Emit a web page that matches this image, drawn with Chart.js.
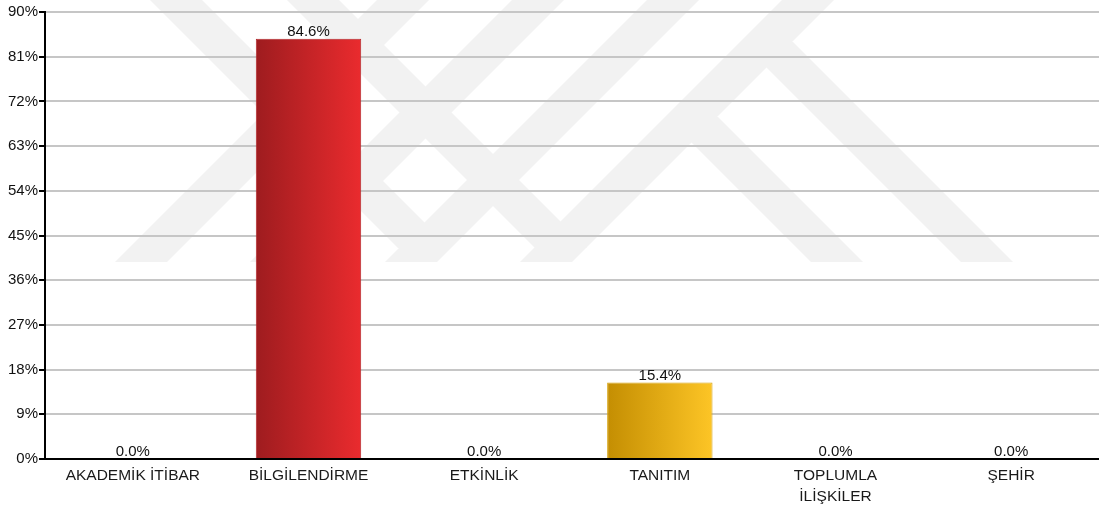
<!DOCTYPE html>
<html>
<head>
<meta charset="utf-8">
<script src="https://cdn.jsdelivr.net/npm/chart.js@4/dist/chart.umd.min.js"></script>
<style>
  html, body { margin: 0; padding: 0; background: #fff; }
  #wrap { width: 1099px; height: 510px; }
</style>
</head>
<body>
<div id="wrap"><canvas id="myChart" width="1099" height="510"></canvas></div>
<script>
// data
var categories = ["AKADEMİK İTİBAR", "BİLGİLENDİRME", "ETKİNLİK", "TANITIM", ["TOPLUMLA", "İLİŞKİLER"], "ŞEHİR"];
var percents = [0.0, 84.6, 0.0, 15.4, 0.0, 0.0];
var yTicks = [0, 9, 18, 27, 36, 45, 54, 63, 72, 81, 90];

var FONT = "'Liberation Sans', Arial, sans-serif";
var CAT_PCT = 0.6;

// colour of each bar: [dark left, light right, border]
function barColors(i) {
  if (i == 3) return ["#c48e02", "#fdc526", "#d6a20e"];
  return ["#9e1c1f", "#ea2b2e", "#b3262a"];
}

// horizontal gradient, built from the x scale (element may not be placed yet)
function barGradient(context) {
  var chart = context.chart;
  var c = barColors(context.dataIndex);
  var xs = chart.scales.x;
  if (!xs || !chart.chartArea) return c[1];
  var center = xs.getPixelForValue(context.dataIndex);
  var half = (xs.width / categories.length) * CAT_PCT / 2;
  if (!isFinite(center) || !isFinite(half)) return c[1];
  var g = chart.ctx.createLinearGradient(center - half, 0, center + half, 0);
  g.addColorStop(0, c[0]);
  g.addColorStop(1, c[1]);
  return g;
}

// faint background watermark (decoration only)
var watermark = {
  id: 'watermark',
  beforeDraw: function (chart) {
    var ctx = chart.ctx;
    ctx.save();
    ctx.fillStyle = '#ffffff';
    ctx.fillRect(0, 0, chart.width, chart.height);
    ctx.fillStyle = '#f2f2f2';
    var w = 52, b = 262;
    function slash(xb) {
      ctx.beginPath();
      ctx.moveTo(xb, b); ctx.lineTo(xb + w, b);
      ctx.lineTo(xb + w + b, 0); ctx.lineTo(xb + b, 0);
      ctx.closePath(); ctx.fill();
    }
    function back(xt, y0, y1) {
      ctx.beginPath();
      ctx.moveTo(xt + y0, y0); ctx.lineTo(xt + w + y0, y0);
      ctx.lineTo(xt + w + y1, y1); ctx.lineTo(xt + y1, y1);
      ctx.closePath(); ctx.fill();
    }
    [115, 250, 385, 520].forEach(slash);
    back(150, 0, 248);
    back(287, 0, 248);
    back(549, 117, b);
    back(699, 42, b);
    ctx.restore();
  }
};

// value labels above the bars
var valueLabels = {
  id: 'valueLabels',
  afterDatasetsDraw: function (chart) {
    var ctx = chart.ctx;
    var meta = chart.getDatasetMeta(0);
    ctx.save();
    ctx.font = '15px ' + FONT;
    ctx.fillStyle = '#111';
    ctx.textAlign = 'center';
    ctx.textBaseline = 'alphabetic';
    meta.data.forEach(function (bar, i) {
      ctx.fillText(percents[i].toFixed(1) + '%', bar.x, bar.y - 3);
    });
    ctx.restore();
  }
};

var ctx = document.getElementById('myChart');
var myChart = new Chart(ctx, {
  type: 'bar',
  data: {
    labels: categories,
    datasets: [{
      data: percents,
      backgroundColor: barGradient,
      borderColor: function (c) { return barColors(c.dataIndex)[2]; },
      borderWidth: 1,
      borderSkipped: 'bottom',
      barPercentage: 1,
      categoryPercentage: CAT_PCT
    }]
  },
  plugins: [watermark, valueLabels],
  options: {
    responsive: false,
    animation: false,
    layout: { padding: { top: 12, right: 0, bottom: 0, left: 0 } },
    plugins: {
      legend: { display: false },
      tooltip: { enabled: false }
    },
    scales: {
      x: {
        grid: { display: false, drawTicks: false },
        border: { display: true, color: '#000', width: 2 },
        ticks: {
          color: '#1a1a1a',
          padding: 6,
          maxRotation: 0,
          autoSkip: false,
          font: { family: FONT, size: 15.5, lineHeight: 1.36 }
        },
        afterFit: function (scale) { scale.height = 51; }
      },
      y: {
        min: 0,
        max: 90,
        afterBuildTicks: function (scale) {
          scale.ticks = yTicks.map(function (v) { return { value: v }; });
        },
        grid: {
          color: '#c6c6c6',
          lineWidth: 2,
          tickColor: '#000',
          tickLength: 6,
          tickWidth: 2
        },
        border: { display: true, color: '#000', width: 2 },
        ticks: {
          color: '#111',
          padding: 1,
          font: { family: FONT, size: 15 },
          callback: function (val) { return val + '%'; }
        },
        afterFit: function (scale) { scale.width = 45; }
      }
    }
  }
});
// redraw once so the gradients see the final scale
myChart.update();
</script>
</body>
</html>
